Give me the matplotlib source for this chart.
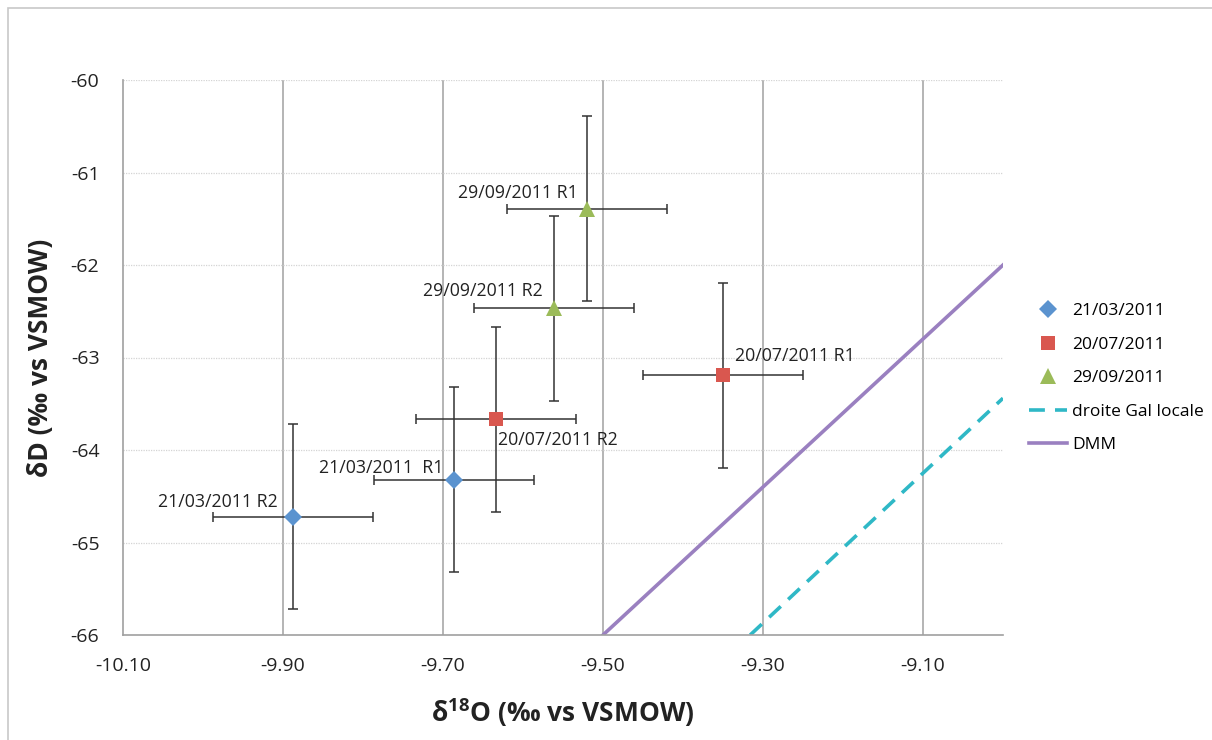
import matplotlib
matplotlib.use("Agg")
import matplotlib.pyplot as plt
from matplotlib.patches import Rectangle

plt.rcParams["font.family"] = ["Open Sans", "DejaVu Sans"]
plt.rcParams["axes.unicode_minus"] = False
plt.rcParams["mathtext.fontset"] = "custom"
plt.rcParams["mathtext.rm"] = "Open Sans"
plt.rcParams["mathtext.bf"] = "Open Sans:bold"

# sample points: d18O, dD (per mil vs VSMOW)
mar_x = [-9.888, -9.686]
mar_y = [-64.72, -64.32]
mar_labels = ["21/03/2011 R2", "21/03/2011  R1"]

jul_x = [-9.350, -9.634]
jul_y = [-63.19, -63.67]
jul_labels = ["20/07/2011 R1", "20/07/2011 R2"]

sep_x = [-9.520, -9.561]
sep_y = [-61.39, -62.47]
sep_labels = ["29/09/2011 R1", "29/09/2011 R2"]

err_x = 0.1
err_y = 1.0

# reference lines
dmm_x = [-9.50, -9.00]
dmm_y = [-66.0, -62.0]
local_x = [-9.316, -9.00]
local_y = [-66.0, -63.44]

x_ticks = [-10.10, -9.90, -9.70, -9.50, -9.30, -9.10]
y_ticks = [-66, -65, -64, -63, -62, -61, -60]

fig = plt.figure(figsize=(12.12, 7.40), dpi=100)
fig.patches.append(Rectangle((8 / 1212, -0.1), 1.2, 1.1 - 8 / 740,
                             transform=fig.transFigure, fill=False,
                             edgecolor="#c8c8c8", linewidth=1.2))
ax = fig.add_axes([123 / 1212, 105 / 740, 880 / 1212, 555 / 740])

ax.set_xlim(-10.10, -9.00)
ax.set_ylim(-66, -60)
ax.set_xticks(x_ticks)
ax.set_xticklabels(["%.2f" % v for v in x_ticks])
ax.set_yticks(y_ticks)
ax.tick_params(length=0, labelsize=14, colors="#222222")
ax.tick_params(axis="x", pad=16)
ax.tick_params(axis="y", pad=17)

for side in ["top", "right"]:
    ax.spines[side].set_visible(False)
for side in ["left", "bottom"]:
    ax.spines[side].set_color("#a0a0a0")
    ax.spines[side].set_linewidth(1.2)

for v in x_ticks[1:]:
    ax.axvline(v, color="#a0a0a0", linewidth=1.1, zorder=0)
for v in y_ticks[1:]:
    ax.axhline(v, color="#d4d4d4", linewidth=0.9, linestyle=(0, (1, 1)), zorder=0)

series = [
    (mar_x, mar_y, "D", "#5b93cf", 9, "21/03/2011"),
    (jul_x, jul_y, "s", "#d9574f", 10, "20/07/2011"),
    (sep_x, sep_y, "^", "#9bbb59", 11, "29/09/2011"),
]
handles = []
for xs, ys, mk, col, ms, lab in series:
    ax.errorbar(xs, ys, xerr=err_x, yerr=err_y, fmt="none", ecolor="#333333",
                elinewidth=1.1, capsize=3.5, capthick=1.1, zorder=2)
    h, = ax.plot(xs, ys, linestyle="none", marker=mk, color=col, ms=ms,
                 markeredgewidth=0, label=lab, zorder=3)
    handles.append(h)

h_loc, = ax.plot(local_x, local_y, color="#2fb8c6", linewidth=2.6,
                 linestyle=(0, (4.4, 2.8)), label="droite Gal locale", zorder=1)
h_dmm, = ax.plot(dmm_x, dmm_y, color="#9a80c0", linewidth=2.6, label="DMM", zorder=1)
handles += [h_loc, h_dmm]

# point labels (offsets in pixels)
labels = [
    (mar_x[0], mar_y[0], mar_labels[0], -15, 15, "right"),
    (mar_x[1], mar_y[1], mar_labels[1], -11, 12, "right"),
    (jul_x[0], jul_y[0], jul_labels[0], 12, 19, "left"),
    (jul_x[1], jul_y[1], jul_labels[1], 2, -21, "left"),
    (sep_x[0], sep_y[0], sep_labels[0], -9, 16, "right"),
    (sep_x[1], sep_y[1], sep_labels[1], -11, 17, "right"),
]
for x, y, t, dx, dy, ha in labels:
    ax.annotate(t, (x, y), xytext=(dx, dy), textcoords="offset pixels",
                ha=ha, va="center", fontsize=12.8, color="#222222", zorder=4)

ax.set_xlabel("δ$\\mathbf{^{18}}$O (‰ vs VSMOW)", fontsize=19, fontweight="bold",
              labelpad=15, color="#222222")
ax.set_ylabel("δD (‰ vs VSMOW)", fontsize=19, fontweight="bold",
              labelpad=12, color="#222222")

fig.legend(handles=handles, loc="upper left", bbox_to_anchor=(1022 / 1212, 1 - 296 / 740),
           frameon=False, fontsize=12.5, handlelength=2.2, handletextpad=0.3,
           labelspacing=1.0, borderaxespad=0)

fig.savefig("out.png", dpi=100)
